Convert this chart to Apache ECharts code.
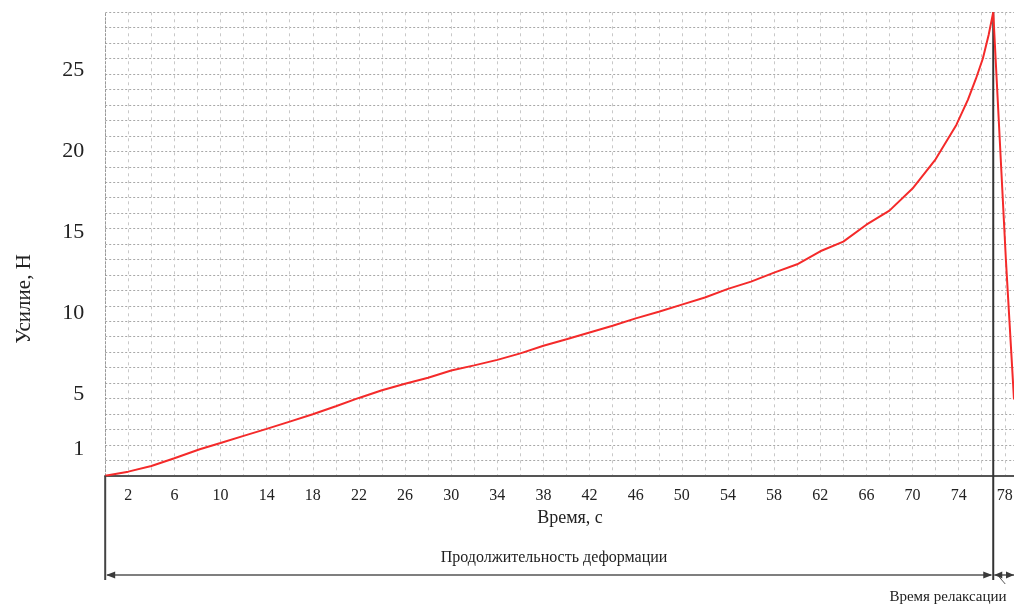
<!DOCTYPE html>
<html><head><meta charset="utf-8">
<script src="https://cdn.jsdelivr.net/npm/echarts@6/dist/echarts.min.js"></script>
<style>html,body{margin:0;padding:0;background:#fff;overflow:hidden}#c{width:1014px;height:605px}</style>
</head><body><div id="c"></div>
<script>
// ---- data ----
const timeValues  = [0,2,4,6,8.2,10,12,14,16,18,20,22,24,26,28,30,32,34,36,38,40,42,44,46,48,50,52,54,56,58,60,62,64,66,68,70,72,73.8,74.8,75.5,76.1,76.6,77,78.1,78.8];
const forceValues = [0,0.25,0.6,1.08,1.63,2.02,2.46,2.89,3.34,3.79,4.29,4.8,5.27,5.68,6.05,6.49,6.81,7.15,7.55,8.02,8.42,8.84,9.25,9.71,10.12,10.56,11.0,11.53,11.98,12.53,13.05,13.85,14.45,15.49,16.36,17.72,19.53,21.65,23.2,24.5,25.75,27.2,28.6,13.3,4.7];
const xTickValues = [2,6,10,14,18,22,26,30,34,38,42,46,50,54,58,62,66,70,74,78];
const yTickValues = [1.63,5,10,15,20,25];
const yTickLabels = ['1','5','10','15','20','25'];
const xTitle = 'Время, с';
const yTitle = 'Усилие, Н';
const deformLabel = 'Продолжительность деформации';
const relaxLabel = 'Время релаксации';
const peakTime = 77;

const FONT = "'Liberation Serif','Times New Roman',serif";
const chart = echarts.init(document.getElementById('c'), null, {renderer:'canvas'});
const option = {
  animation:false,
  backgroundColor:'#fff',
  grid:{left:105.2, top:12.3, right:0, height:463.4, containLabel:false, outerBoundsMode:'none'},
  xAxis:{type:'value', min:0, max:78.8, interval:2,
    axisLine:{show:true, onZero:false, lineStyle:{color:'#555', width:2}},
    axisTick:{show:false},
    axisLabel:{customValues:xTickValues, margin:12, fontFamily:FONT, fontSize:16, color:'#222'},
    splitLine:{show:true, showMaxLine:false, lineStyle:{color:'#c8c8c8', type:[3,4], width:1}}},
  yAxis:[
    {type:'value', min:0, max:28.6, position:'left',
      axisLine:{show:false}, axisTick:{show:false}, splitLine:{show:false},
      axisLabel:{customValues:yTickValues,
        formatter:(v)=>{const i=yTickValues.indexOf(v); return i>=0?yTickLabels[i]:'';},
        margin:21, fontFamily:FONT, fontSize:22, color:'#222'}},
    {type:'value', min:0, max:30, interval:1, position:'left',
      axisLabel:{show:false}, axisTick:{show:false},
      axisLine:{show:true, onZero:false, lineStyle:{color:'#999', type:[2,2]}},
      splitLine:{show:true, lineStyle:{color:'#a8a8a8', type:[2,2], width:1}}}
  ],
  series:[{type:'line', yAxisIndex:0, z:5,
    data: timeValues.map((t,i)=>[t,forceValues[i]]),
    symbol:'none', showSymbol:false,
    lineStyle:{color:'#f42a2a', width:2}}]
};
chart.setOption(option);

const p0 = chart.convertToPixel({xAxisIndex:0, yAxisIndex:0}, [0,0]);
const pTop = chart.convertToPixel({xAxisIndex:0, yAxisIndex:1}, [peakTime,30]);
const x0 = p0[0], yAxisPx = p0[1], xP = pTop[0], yTop = pTop[1];
const arrowY = 575, lowY = 580;
const dark = '#3a3a3a';
function tri(pts){return {type:'polygon', z:10, shape:{points:pts}, style:{fill:dark}};}
chart.setOption({graphic:[
  {type:'line', z:10, shape:{x1:x0, y1:yAxisPx, x2:x0, y2:lowY}, style:{stroke:'#444', lineWidth:2}},
  {type:'line', z:3, shape:{x1:xP, y1:yTop, x2:xP, y2:lowY}, style:{stroke:'#333', lineWidth:2}},
  {type:'line', z:10, shape:{x1:x0+2, y1:arrowY, x2:xP-2, y2:arrowY}, style:{stroke:'#555', lineWidth:1.5}},
  tri([[x0+1,arrowY],[x0+10,arrowY-3.5],[x0+10,arrowY+3.5]]),
  tri([[xP-1,arrowY],[xP-10,arrowY-3.5],[xP-10,arrowY+3.5]]),
  {type:'line', z:10, shape:{x1:xP+1, y1:arrowY, x2:1014, y2:arrowY}, style:{stroke:'#555', lineWidth:1.5}},
  tri([[xP+1,arrowY],[xP+9,arrowY-3.5],[xP+9,arrowY+3.5]]),
  tri([[1014,arrowY],[1006,arrowY-3.5],[1006,arrowY+3.5]]),
  {type:'line', z:10, shape:{x1:xP+6, y1:arrowY+2, x2:xP+12, y2:arrowY+9}, style:{stroke:'#555', lineWidth:1}},
  {type:'text', z:10, x:570, y:518, style:{text:xTitle, font:'18px '+FONT, fill:'#222', align:'center', verticalAlign:'middle'}},
  {type:'text', z:10, x:554, y:558, style:{text:deformLabel, font:'16px '+FONT, fill:'#222', align:'center', verticalAlign:'middle'}},
  {type:'text', z:10, x:948, y:597, style:{text:relaxLabel, font:'15px '+FONT, fill:'#222', align:'center', verticalAlign:'middle'}},
  {type:'text', z:10, x:24, y:299, rotation:Math.PI/2, style:{text:yTitle, font:'21px '+FONT, fill:'#222', align:'center', verticalAlign:'middle'}}
]});
</script>
</body></html>
